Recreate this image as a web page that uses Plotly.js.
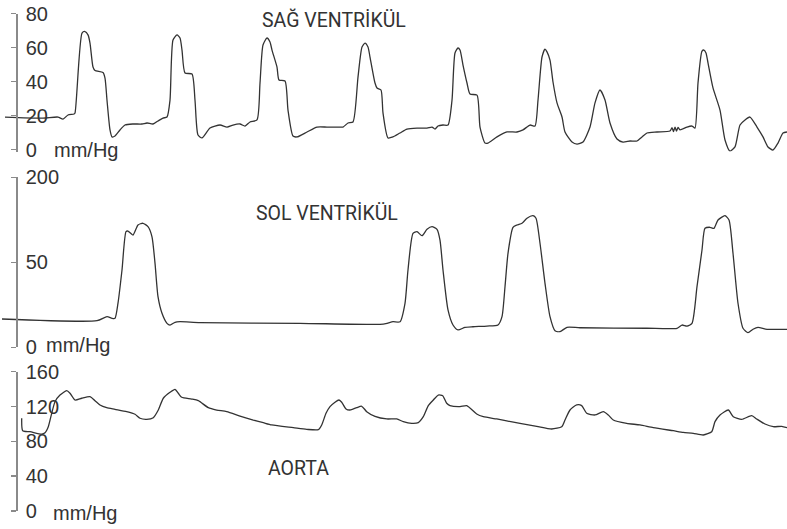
<!DOCTYPE html>
<html>
<head>
<meta charset="utf-8">
<script src="https://cdn.plot.ly/plotly-3.0.1.min.js"></script>
<style>html,body{margin:0;padding:0;background:#fff;}#chart{width:787px;height:529px;}</style>
</head>
<body>
<div id="chart"></div>
<script>
// Time axis (sample positions) and pressures in mm/Hg
const rvTime = [5,43,58,63,68,74,75,82,85,88,90,93,95,103,105,107,110,112,115,120,125,133,142,147,153,158,163,167,
170,173,177,180,182,185,192,195,198,202,210,220,227,233,240,245,250,257,
260,263,267,270,272,277,279,285,288,293,297,307,317,327,337,343,348,353,
358,362,365,368,370,375,377,381,383,388,393,400,407,417,427,432,435,438,443,448,
452,455,458,460,463,467,470,477,480,485,488,497,507,517,523,530,535,
538,542,545,547,550,553,557,562,565,572,577,583,590,595,600,605,610,617,623,630,637,642,647,657,670,
672,673.5,675,676.5,678,680,687,692,695,
698,702,704,706,708,713,720,725,730,735,740,745,750,757,763,768,773,778,783,787];
const rvPressure = [19.1,18.5,19.1,17.9,20.3,20.9,21.5,68.5,69.4,67.4,62.6,48.5,46.5,45.3,42,29,11.5,7.4,7.9,11.5,14.4,15,15,15.6,15,16.8,18.5,19.1,
29,64.4,67.4,65.6,58.5,45,44.4,29,8.5,6.8,12.6,14.4,13.2,14.4,15,13.8,16.2,17.4,
39,61.5,65.6,63.2,58.5,48.5,40.9,40.3,23.2,7.9,7.4,10.3,13.2,13.2,13.2,13.2,15.6,16.2,
42.6,60.3,62.6,60.3,54.4,39.1,36.2,35,21.5,6.8,7.4,9.7,12,12.6,12.6,13.2,12,13.8,14.4,14.4,
29,56.8,59.7,58.5,49.7,39.1,32.6,32,13.2,3.8,3.8,7.4,10.3,10.3,11.5,14.4,13.8,
29,54.4,59.1,57.4,52.6,39.7,27.4,19.1,10.3,4.4,3.2,4.4,13.2,27.4,35,29.1,15.6,6.2,4.4,5,5,7.4,9.7,10.3,10.9,
12.8,10.6,13.2,10.8,13,11.5,13.2,13.8,12.6,
39.1,57.9,58.5,56.8,50.9,36.2,23.2,5.6,-0.9,1.5,14.4,17.4,19.1,13.2,7.4,1.5,-0.3,3.8,9.7,10.3];

const lvTime = [2,97,107,112,115,118,122,126,128,133,138,143,148,152,155,158,162,167,170,175,180,200,300,380,387,
393,400,405,408,413,417,422,427,432,437,440,443,448,453,458,465,473,487,498,
502,505,508,513,517,522,527,533,536,540,545,550,555,560,567,580,647,677,682,687,692,
697,702,705,710,714,718,725,729,733,738,743,748,753,758,767,787];
const lvPressure = [33.3,31.3,36,34.1,34.1,52,91,136,136.8,132,144,145.9,141.9,130,99,59.5,40,28.2,26.2,29.4,30.1,29,28.2,27,28.2,
30.1,30.1,51.8,91,134,136,131.3,138.8,141.9,138.8,126,91,43.9,26.2,20.4,23.5,24.2,25,26.2,
36,71.3,110.6,141.2,143.9,145.9,151.8,154.8,151.8,122.4,75.3,36,19.5,18.4,23.5,23,22.4,22.4,26.2,25,28.2,
71.3,114.5,140,141.2,140,149.8,154.8,149.8,110.6,51.8,22.4,17.2,21.2,23.5,21.2,21.2];

const aoTime = [21.7,22.7,30,41.7,45,48.3,51.7,55,60,66.7,70,75,81.7,90,95,100,106.7,115,126.7,135,140,146.7,153.3,158.3,163.3,170,175,178.3,181.7,191.7,198.3,208.3,216.7,226.7,240,253.3,
263.3,271.7,293.3,306.7,318.3,321.7,326,330,335,339,341.7,346,350,356.7,361.7,366.7,375,
386.7,396.7,403.3,411.7,418.3,423.3,428.3,433.3,438.3,442.7,446.7,450,460,466.7,476.7,483.3,496.7,506.7,520,536.7,551.7,561.7,565,570,576.7,581.7,586.7,595,603.3,608.3,613.3,626.7,640,653.3,673.3,683.3,693.3,703.3,711.7,715,720,728.3,733.3,741.7,751.7,756.7,765,773.3,781.7,787];
const aoPressure = [106.5,92.2,91.1,88.4,89.9,96.8,112.2,125.5,133.2,138.2,135.2,127.5,129.5,131.3,126.7,121.8,118.7,116.8,114.1,111.1,106.5,105.3,107.2,116,129.5,136.3,139.8,135.2,130.6,128.6,126.7,118.7,116,114.1,109.1,104.5,
101.4,98.8,95.7,93.8,93.4,98.8,112.2,119.8,124.9,127.5,124.9,117.2,116,118.7,120.3,114.1,108.8,
105.7,105.7,102.6,100.7,101.5,108.3,121,127.5,133.2,132.4,123.7,121,119.8,121,111.4,108.3,105.7,103.4,100.7,97.3,94.2,96.8,104.5,116,121.8,121,112.2,110.3,114.1,110.3,104.5,100.7,98.8,95.7,92.2,90.4,89.2,87.3,91.1,102.6,110.3,116,108.3,105.3,109.5,105.7,99.9,96.8,97.3,95.7];

const panelTitles = ['SAĞ VENTRİKÜL', 'SOL VENTRİKÜL', 'AORTA'];
const unitLabel = 'mm/Hg';
const rvTicks = [0,20,40,60,80];
const lvTickVals = [0,100,200];
const lvTickText = ['0','50','200'];
const aoTicks = [0,40,80,120,160];

const W = 787, H = 529;
const px = x => x / W;
const py = y => 1 - y / H;
const lineStyle = {color: '#333333', width: 1.3, shape: 'spline', smoothing: 0.6};

const traces = [
  {x: rvTime, y: rvPressure, xaxis: 'x', yaxis: 'y', mode: 'lines', line: lineStyle, hoverinfo: 'skip'},
  {x: lvTime, y: lvPressure, xaxis: 'x', yaxis: 'y2', mode: 'lines', line: lineStyle, hoverinfo: 'skip'},
  {x: aoTime, y: aoPressure, xaxis: 'x', yaxis: 'y3', mode: 'lines', line: lineStyle, hoverinfo: 'skip'}
];

const axisPos = px(16.7);
const tickFont = {family: 'Liberation Sans, Arial, sans-serif', size: 20, color: '#333333'};
function yAx(extra) {
  return Object.assign({
    anchor: 'free', position: axisPos, showgrid: false, zeroline: false,
    showline: true, linecolor: '#8a8a8a', linewidth: 2,
    ticks: 'outside', ticklen: 5, tickwidth: 1.5, tickcolor: '#8a8a8a',
    ticklabelposition: 'inside', ticklabeloverflow: 'allow', ticklabelstandoff: 9,
    tickfont: tickFont, fixedrange: true
  }, extra);
}

const rvLo = -1.2, rvScale = 1.7;      // px per mmHg
const titleFont = {family: 'Roboto, sans-serif', size: 19.5, color: '#333333'};

const layout = {
  width: W, height: H,
  margin: {l: 0, r: 0, t: 0, b: 0},
  paper_bgcolor: '#ffffff', plot_bgcolor: 'rgba(0,0,0,0)',
  showlegend: false,
  xaxis: {range: [0, W], domain: [0, 1], visible: false, fixedrange: true},
  yaxis: yAx({range: [rvLo, 80], tickvals: rvTicks, domain: [py(149.5 - rvLo * rvScale), py(13.5)]}),
  yaxis2: yAx({range: [0, 200], tickvals: lvTickVals, ticktext: lvTickText, domain: [py(347.3), py(177.3)]}),
  yaxis3: yAx({range: [0, 160], tickvals: aoTicks, domain: [py(511), py(371.7)]}),
  annotations: [
    {text: panelTitles[0], x: px(334), y: py(20), xref: 'paper', yref: 'paper', xanchor: 'center', yanchor: 'middle', showarrow: false, font: titleFont},
    {text: panelTitles[1], x: px(327), y: py(213), xref: 'paper', yref: 'paper', xanchor: 'center', yanchor: 'middle', showarrow: false, font: titleFont},
    {text: panelTitles[2], x: px(298), y: py(468), xref: 'paper', yref: 'paper', xanchor: 'center', yanchor: 'middle', showarrow: false, font: titleFont},
    {text: unitLabel, x: px(86), y: py(150), xref: 'paper', yref: 'paper', xanchor: 'center', yanchor: 'middle', showarrow: false, font: tickFont},
    {text: unitLabel, x: px(78), y: py(345), xref: 'paper', yref: 'paper', xanchor: 'center', yanchor: 'middle', showarrow: false, font: tickFont},
    {text: unitLabel, x: px(85), y: py(513), xref: 'paper', yref: 'paper', xanchor: 'center', yanchor: 'middle', showarrow: false, font: tickFont}
  ]
};

Plotly.newPlot('chart', traces, layout, {staticPlot: true, displayModeBar: false});
</script>
</body>
</html>
